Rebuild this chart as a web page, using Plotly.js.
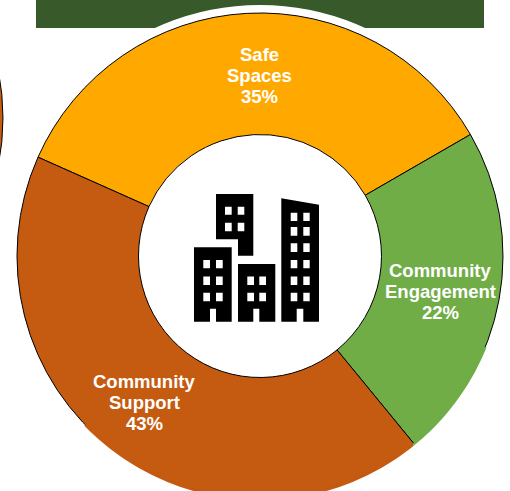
<!DOCTYPE html>
<html><head><meta charset="utf-8">
<script src="https://cdn.plot.ly/plotly-3.0.0.min.js"></script>
<style>html,body{margin:0;padding:0;background:#fff;overflow:hidden;width:510px;height:491px}#c{width:510px;height:512px}</style>
</head><body><div id="c"></div>
<script>
const categories = ['Safe Spaces','Community Engagement','Community Support'];
const shares = [35,22.4,42.6];
const sliceColors = ['#FFA900','#70AD47','#C55A11'];
const labelLines = [['Safe','Spaces','35%'],['Community','Engagement','22%'],['Community','Support','43%']];

const W=510,H=512;
const px=x=>(x/W).toFixed(5), py=y=>(1-y/H).toFixed(5);
const poly=pts=>'M'+pts.map(p=>px(p[0])+','+py(p[1])).join(' L')+' Z';
const rect=(a,b,c,d)=>poly([[a,c],[b,c],[b,d],[a,d]]);
function win(xs,ys){let s='';ys.forEach(y=>xs.forEach(x=>{s+=rect(x[0],x[1],y[0],y[1])+' ';}));return s;}
const r1=[260,268.3],r2=[276.5,285],r3=[292.7,301.3];
const paths=[
 poly([[216,194],[253.3,194],[253.3,255.7],[238,255.7],[238,239.3],[216,239.3]])+' '+win([[225,231.7],[237.7,244.3]],[[206.7,214.7],[222.7,231.3]]),
 poly([[194,247.3],[231.7,247.3],[231.7,321.7],[216,321.7],[216,308.7],[210,308.7],[210,321.7],[194,321.7]])+' '+win([[203.3,210],[216,222.7]],[r1,r2,r3]),
 poly([[238,264],[275.3,264],[275.3,321.7],[259.3,321.7],[259.3,308.7],[253.3,308.7],[253.3,321.7],[238,321.7]])+' '+win([[247.3,254],[259.3,266]],[r2,r3]),
 poly([[281.3,198.3],[319,204.7],[319,321.7],[303.3,321.7],[303.3,308.7],[296.7,308.7],[296.7,321.7],[281.3,321.7]])+' '+win([[290.7,297.3],[303.3,309.7]],[[212.7,221],[227,235.7],[243.3,252],r1,r2,r3])
];
const circle=(cx,cy,r,fill,line)=>({type:'circle',xref:'paper',yref:'paper',layer:'below',
  x0:+px(cx-r),x1:+px(cx+r),y0:+py(cy+r),y1:+py(cy-r),fillcolor:fill,line:{color:line||fill,width:line?1:0}});
// the lower part of the ring has no visible outline: paint over it in the slice colour
function rimCover(a0,a1,color){
  const pts=[];
  for(let a=a0;a<=a1;a+=1){const t=a*Math.PI/180;pts.push(px(260+243*Math.sin(t))+','+py(256-243*Math.cos(t)));}
  return {type:'path',xref:'paper',yref:'paper',layer:'above',path:'M'+pts.join(' L'),line:{color,width:2.4}};
}
const shapes=[
 {type:'rect',xref:'paper',yref:'paper',layer:'below',x0:+px(36),x1:+px(484),y0:+py(28),y1:1,fillcolor:'#385A2B',line:{width:0}},
 circle(260,256,251,'#FFFFFF'),
 circle(-240,118,243,'#C55A11','#000000'),
 rimCover(112,141,sliceColors[1]),
 rimCover(141,226,sliceColors[2]),
 ...paths.map(p=>({type:'path',xref:'paper',yref:'paper',layer:'above',path:p,fillcolor:'#000000',line:{width:0},fillrule:'evenodd'}))
];
const centers=[[259,75.5],[440,291],[144,402.5]];
const annotations=[];
labelLines.forEach((ls,i)=>ls.forEach((t,j)=>annotations.push({
  text:t,xref:'paper',yref:'paper',x:centers[i][0]/W,y:1-(centers[i][1]+(j-1)*21)/H,xanchor:'center',yanchor:'middle',
  showarrow:false,font:{family:'"Liberation Sans",Arial,sans-serif',size:18.5,color:'#FFFFFF',weight:700}})));
Plotly.newPlot('c',[{type:'pie',labels:categories,values:shares,sort:false,direction:'clockwise',rotation:-66,hole:0.5,
  marker:{colors:sliceColors,line:{color:'#000000',width:1}},textinfo:'none',hoverinfo:'skip',
  domain:{x:[17/W,503/W],y:[13/H,499/H]}}],
  {width:W,height:H,margin:{l:0,r:0,t:0,b:0,pad:0},paper_bgcolor:'#FFFFFF',showlegend:false,shapes,annotations},
  {staticPlot:true,displayModeBar:false});
</script></body></html>
